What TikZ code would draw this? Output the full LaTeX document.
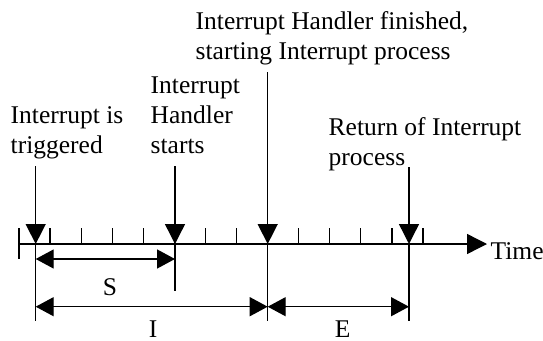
\documentclass[tikz,border=0pt]{standalone}
\usepackage{fontspec}
\setmainfont{Liberation Serif}
\usetikzlibrary{arrows.meta}
% stacked lines whose baseline is that of the first line
\newcommand{\twolines}[2]{\vtop{\hbox{#1}\hbox{#2}}}
\newcommand{\threelines}[3]{\vtop{\hbox{#1}\hbox{#2}\hbox{#3}}}
\begin{document}
\begin{tikzpicture}[x=1pt, y=-1pt, line width=1.4pt,
  lbl/.style={anchor=base west, inner sep=0pt,
    font=\fontsize{25.5}{30}\selectfont},
  dimlbl/.style={anchor=base, inner sep=0pt, font=\fontsize{25.5}{30}\selectfont},
  evtarrow/.style={-{Triangle[length=20pt,width=20pt]}},
  dimarrow/.style={{Triangle[length=18pt,width=19pt]}-{Triangle[length=18pt,width=19pt]}},
  axisarrow/.style={-{Triangle[length=20pt,width=20pt]}},
  extline/.style={line width=1.4pt},
  tickline/.style={line width=1.2pt}]
\useasboundingbox (0,0) rectangle (543,340);

% time axis
\coordinate (axL) at (19,244);
\coordinate (axR) at (487,244);
\draw[axisarrow] (axL) -- (axR);
\draw[tickline] (19,228) -- (19,259);
\foreach \k in {1,...,13}
  \draw[tickline] (19+31.08*\k,228) -- (19+31.08*\k,244);
\node[lbl] (time) at (490,259) {Time};

% events on the axis
\coordinate (e1) at (35.7,244);
\coordinate (e2) at (175,244);
\coordinate (e3) at (267.7,244);
\coordinate (e4) at (409,244);

\coordinate (e1top) at (35.7,166);
\coordinate (e2top) at (175,166);
\coordinate (e3top) at (267.7,72);
\coordinate (e4top) at (409,167);

\draw[evtarrow] (e1top) -- (e1);
\draw[evtarrow] (e2top) -- (e2);
\draw[evtarrow] (e3top) -- (e3);
\draw[evtarrow] (e4top) -- (e4);

% extension lines below the axis
\coordinate (e1bot) at (35.7,321);
\coordinate (e2bot) at (175,291);
\coordinate (e3bot) at (267.7,321);
\coordinate (e4bot) at (409,321);
\draw[extline] (e1) -- (e1bot);
\draw[extline] (e2) -- (e2bot);
\draw[extline] (e3) -- (e3bot);
\draw[extline] (e4) -- (e4bot);

% event labels
\node[lbl] (l1) at (10,123.3) {\twolines{Interrupt is}{triggered}};
\node[lbl] (l2) at (150,93.3) {\threelines{Interrupt}{Handler}{starts}};
\node[lbl] (l3) at (195,29.3) {\twolines{Interrupt Handler finished,}{starting Interrupt process}};
\node[lbl] (l4) at (328,135) {\twolines{Return of Interrupt}{process}};

% interval dimensions
\coordinate (s1) at (35.7,259);
\coordinate (s2) at (175,259);
\coordinate (i1) at (35.7,306.7);
\coordinate (i2) at (267.7,306.7);
\coordinate (x1) at (267.7,306.7);
\coordinate (x2) at (409,306.7);
\draw[dimarrow] (s1) -- (s2);
\draw[dimarrow] (i1) -- (i2);
\draw[dimarrow] (x1) -- (x2);
\node[dimlbl] (S) at (110,295) {S};
\node[dimlbl] (I) at (153,337) {I};
\node[dimlbl] (E) at (342.7,337) {E};
\end{tikzpicture}
\end{document}
